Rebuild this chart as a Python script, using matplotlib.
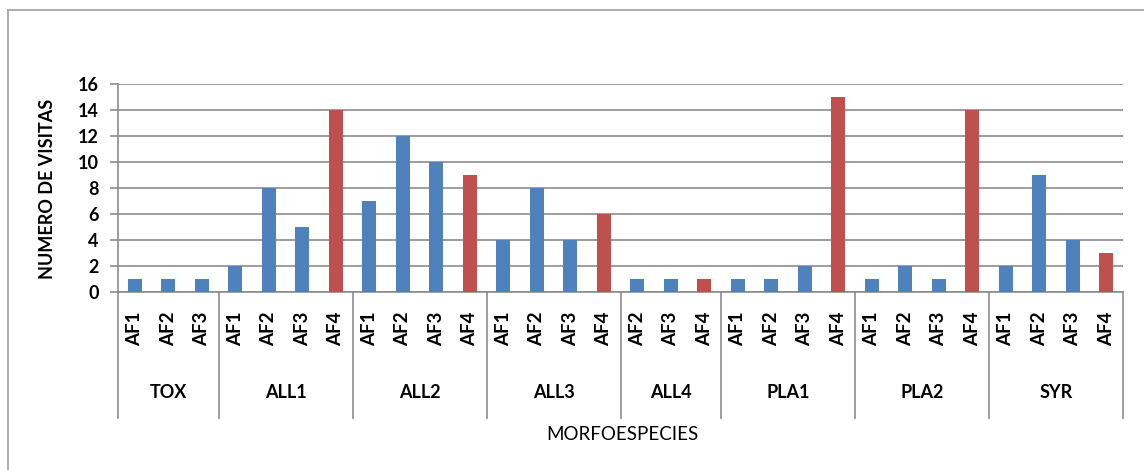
import matplotlib
matplotlib.use("Agg")
import matplotlib.pyplot as plt
from matplotlib.lines import Line2D
import matplotlib.transforms as mtransforms

# ---- data ----
groups = ["TOX", "ALL1", "ALL2", "ALL3", "ALL4", "PLA1", "PLA2", "SYR"]
subcats = [
    ["AF1", "AF2", "AF3"],
    ["AF1", "AF2", "AF3", "AF4"],
    ["AF1", "AF2", "AF3", "AF4"],
    ["AF1", "AF2", "AF3", "AF4"],
    ["AF2", "AF3", "AF4"],
    ["AF1", "AF2", "AF3", "AF4"],
    ["AF1", "AF2", "AF3", "AF4"],
    ["AF1", "AF2", "AF3", "AF4"],
]
values = [
    [1, 1, 1],
    [2, 8, 5, 14],
    [7, 12, 10, 9],
    [4, 8, 4, 6],
    [1, 1, 1],
    [1, 1, 2, 15],
    [1, 2, 1, 14],
    [2, 9, 4, 3],
]
y_ticks = [0, 2, 4, 6, 8, 10, 12, 14, 16]
x_title = "MORFOESPECIES"
y_title = "NUMERO DE VISITAS"

BLUE = "#4F81BD"
RED = "#C0504D"
GRID = "#8C8C8C"
FONT = "Lato"

W, H = 1144, 470
fig = plt.figure(figsize=(W / 100, H / 100), dpi=100)
fig.patch.set_facecolor("white")

# outer chart frame (left & top visible)
fig.add_artist(Line2D([8 / W, 8 / W], [0, 1 - 10 / H], transform=fig.transFigure,
                      color="#A6A6A6", lw=1.3))
fig.add_artist(Line2D([8 / W, 1], [1 - 10 / H, 1 - 10 / H], transform=fig.transFigure,
                      color="#A6A6A6", lw=1.3))

x0, x1 = 118, 1123
ytop, ybot = 84, 292
ax = fig.add_axes([x0 / W, 1 - ybot / H, (x1 - x0) / W, (ybot - ytop) / H])

flat_labels, flat_vals, flat_cols = [], [], []
for subs, vals in zip(subcats, values):
    for s, v in zip(subs, vals):
        flat_labels.append(s)
        flat_vals.append(v)
        flat_cols.append(RED if s == "AF4" else BLUE)

n = len(flat_vals)
xs = [i + 0.5 for i in range(n)]
ax.bar(xs, flat_vals, width=0.42, color=flat_cols, zorder=3)
ax.set_xlim(0, n)
ax.set_ylim(0, 16)
ax.set_yticks(y_ticks)
ax.yaxis.grid(True, color=GRID, lw=1.2, zorder=0)
ax.set_axisbelow(True)
ax.set_xticks([])
for sp in ["top", "right"]:
    ax.spines[sp].set_visible(False)
ax.spines["left"].set_color(GRID)
ax.spines["bottom"].set_color(GRID)
ax.spines["left"].set_linewidth(1.2)
ax.spines["bottom"].set_linewidth(1.2)
ax.tick_params(axis="y", length=6, color=GRID, width=1.2, pad=8)
for lab in ax.get_yticklabels():
    lab.set_fontfamily(FONT)
    lab.set_fontweight("bold")
    lab.set_fontsize(13)

trans = mtransforms.blended_transform_factory(ax.transData, ax.transAxes)
ph = ybot - ytop

# category labels
for x, lab in zip(xs, flat_labels):
    ax.text(x, -(312 - ybot) / ph, lab, transform=trans, rotation=90,
            ha="center", va="top", fontsize=13.5, fontweight="bold", family=FONT)

# group labels and dividers
pos = 0
bounds = [0]
for g, subs in zip(groups, subcats):
    c = pos + len(subs) / 2
    ax.text(c, -(393 - ybot) / ph, g, transform=trans, ha="center", va="center",
            fontsize=13, fontweight="bold", family=FONT)
    pos += len(subs)
    bounds.append(pos)
for b in bounds:
    ax.add_line(Line2D([b, b], [0, -(418 - ybot) / ph], transform=trans,
                       color=GRID, lw=1.2, clip_on=False))

# axis titles
fig.text(622 / W, 1 - 435 / H, x_title, ha="center", va="center",
         fontsize=13.5, family=FONT)
fig.text(48 / W, 1 - 189 / H, y_title, ha="center", va="center", rotation=90,
         fontsize=13, fontweight="bold", family=FONT)

fig.savefig("out.png", dpi=100, facecolor="white")
